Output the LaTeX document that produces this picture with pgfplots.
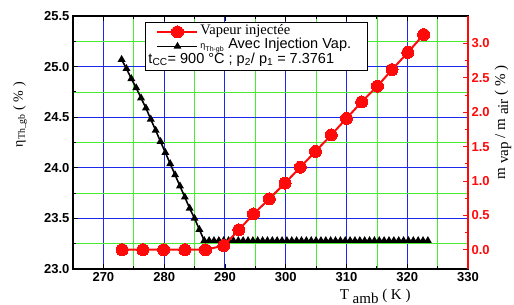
\documentclass[border=0pt]{standalone}
\usepackage{fontspec}
\setmainfont{Liberation Serif}
\setsansfont{Liberation Sans}
\usepackage{pgfplots}
\pgfplotsset{compat=1.18}
\definecolor{gridblue}{RGB}{30,40,235}
\definecolor{gridgreen}{RGB}{70,235,50}
\definecolor{myred}{RGB}{255,10,10}
\newcommand{\tickfont}{\sffamily\bfseries\fontsize{13}{13}\selectfont}
\begin{document}
\begin{tikzpicture}
\useasboundingbox (-73pt,-36pt) rectangle (441pt,269pt);
\begin{axis}[
  at={(0,0)}, anchor=south west,
  scale only axis, width=395pt, height=253pt,
  xmin=265, xmax=330, ymin=23, ymax=25.5,
  xtick={270,280,...,330}, ytick={23,23.5,...,25.5},
  minor x tick num=1, minor y tick num=1,
  grid=both,
  major grid style={gridblue, line width=1pt},
  minor grid style={gridgreen, line width=0.6pt},
  axis line style={black, line width=1.2pt},
  tick style={black, line width=0.8pt},
  tick align=inside,
  major tick length=5pt, minor tick length=3pt,
  ytick pos=left,
  tick label style={font=\tickfont},
  /pgf/number format/assume math mode=true,
  yticklabel style={/pgf/number format/.cd, fixed, fixed zerofill, precision=1},
  xticklabel style={/pgf/number format/.cd, fixed, precision=0},
  xlabel={T {\raisebox{-0.45ex}{amb}} ( K )},
  xlabel style={at={(axis description cs:0.765,-0.108)}, anchor=center, font=\fontsize{15}{15}\selectfont},
  ylabel={η\textsubscript{Th\_gb} ( \% )},
  ylabel style={at={(axis description cs:-0.134,0.61)}, anchor=center, rotate=0, font=\fontsize{14}{14}\selectfont},
]
\addplot[black, line width=1.6pt, mark=triangle*, mark size=3pt] coordinates {
(273.0,25.07) (273.8,24.98) (274.6,24.88) (275.4,24.79) (276.2,24.69) (277.0,24.59)
(277.8,24.48) (278.6,24.37) (279.4,24.26) (280.2,24.15) (281.0,24.04) (281.8,23.93)
(282.6,23.82) (283.4,23.71) (284.2,23.60) (285.0,23.50) (285.8,23.39) (286.6,23.28)
(287.4,23.28) (288.2,23.28) (289.0,23.28) (289.8,23.28) (290.6,23.28) (291.4,23.28)
(292.2,23.28) (293.0,23.28) (293.8,23.28) (294.6,23.28) (295.4,23.28) (296.2,23.28)
(297.0,23.28) (297.8,23.28) (298.6,23.28) (299.4,23.28) (300.2,23.28) (301.0,23.28)
(301.8,23.28) (302.6,23.28) (303.4,23.28) (304.2,23.28) (305.0,23.28) (305.8,23.28)
(306.6,23.28) (307.4,23.28) (308.2,23.28) (309.0,23.28) (309.8,23.28) (310.6,23.28)
(311.4,23.28) (312.2,23.28) (313.0,23.28) (313.8,23.28) (314.6,23.28) (315.4,23.28)
(316.2,23.28) (317.0,23.28) (317.8,23.28) (318.6,23.28) (319.4,23.28) (320.2,23.28)
(321.0,23.28) (321.8,23.28) (322.6,23.28) (323.4,23.28)
};
\end{axis}
\begin{axis}[
  at={(0,0)}, anchor=south west,
  scale only axis, width=395pt, height=253pt,
  xmin=265, xmax=330, ymin=-0.28, ymax=3.4,
  axis x line=none,
  axis y line*=right,
  y axis line style={myred, line width=1.6pt, -},
  ytick={0,0.5,...,3}, minor y tick num=1,
  ytick style={myred, line width=0.8pt},
  tick align=inside,
  major tick length=5pt, minor tick length=3pt,
  yticklabel style={myred, font=\tickfont, /pgf/number format/.cd, fixed, fixed zerofill, precision=1},
  /pgf/number format/assume math mode=true,
  ylabel={m {\raisebox{-0.45ex}{vap}} / m {\raisebox{-0.45ex}{air}} ( \% )},
  ylabel style={at={(axis description cs:1.0886,0.58)}, anchor=center, rotate=0, font=\fontsize{15}{15}\selectfont},
  legend cell align=left,
  legend image code/.code={\draw[mark repeat=2, mark phase=2] plot coordinates {(10pt,0pt) (30pt,0pt) (50pt,0pt)};},
  legend style={at={(axis description cs:0.182,0.976)}, anchor=north west,
    draw=black, line width=1.2pt, fill=white, inner sep=2pt, row sep=0pt,
    font=\fontsize{14.5}{16}\selectfont,
    nodes={inner sep=2pt, text height=0.78em, text depth=0.27em}},
]
\addplot[myred, line width=2pt, mark=*, mark size=6pt, mark options={fill=myred, draw=myred, line width=0pt}] coordinates {
(273.1,0) (276.5,0) (279.9,0) (283.4,0) (286.8,0)
(289.8,0.06) (292.3,0.29) (294.7,0.52) (297.3,0.74) (299.9,0.97)
(302.4,1.20) (304.9,1.43) (307.5,1.67) (310.0,1.91) (312.5,2.15)
(315.1,2.38) (317.5,2.62) (320.1,2.87) (322.7,3.13)
};
\addlegendentry{Vapeur injectée}
\addlegendimage{black, line width=1.6pt, mark=triangle*, mark size=3pt}
\addlegendentry{\sffamily {\small η}\textsubscript{\scriptsize Th-gb} Avec Injection Vap.\hspace*{12pt}}
\addlegendimage{empty legend}
\addlegendentry{\hspace*{-52pt}\sffamily t\textsubscript{CC}= 900 °C ; p\textsubscript{2}/ p\textsubscript{1} = 7.3761}
\end{axis}
\end{tikzpicture}
\end{document}
